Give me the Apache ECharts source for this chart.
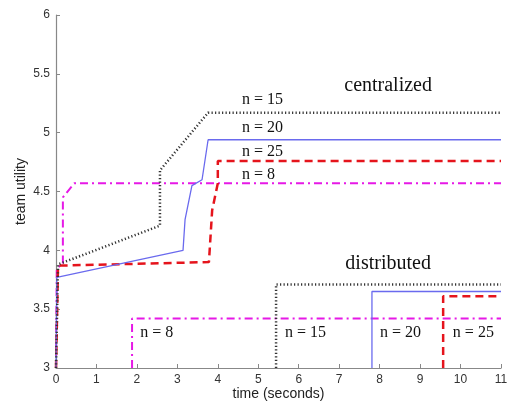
<!DOCTYPE html>
<html>
<head>
<meta charset="utf-8">
<script src="https://cdn.jsdelivr.net/npm/echarts@6/dist/echarts.min.js"></script>
<style>html,body{margin:0;padding:0;background:#fff}#c{width:510px;height:404px}</style>
</head>
<body>
<div id="c"></div>
<script>
// Centralized curves: [time, utility]
const cent15 = [[0,3],[0.05,3.88],[2.57,4.21],[2.57,4.68],[3.76,5.17],[11,5.17]];
const cent20 = [[0,3],[0.02,3.77],[3.14,4.0],[3.19,4.26],[3.36,4.55],[3.61,4.6],[3.76,4.94],[11,4.94]];
const cent25 = [[0,3],[0.05,3.87],[3.78,3.9],[3.86,4.34],[4.0,4.57],[4.0,4.76],[11,4.76]];
const cent8  = [[0,3],[0.02,3.85],[0.17,3.88],[0.17,4.45],[0.45,4.57],[11,4.57]];
// Distributed curves
const dist15 = [[5.44,3],[5.44,3.71],[11,3.71]];
const dist20 = [[7.81,3],[7.81,3.65],[11,3.65]];
const dist25 = [[9.57,3],[9.57,3.61],[11,3.61]];
const dist8  = [[1.88,3],[1.88,3.42],[11,3.42]];
// Axis ticks
const xTicks = [0,1,2,3,4,5,6,7,8,9,10,11];
const yTicks = [3,3.5,4,4.5,5,5.5,6];
// Annotations [text, x, y, align, size]
const notes = [
  ['centralized', 8.21, 5.40, 'center', 20],
  ['n = 15', 4.6, 5.28, 'left', 16],
  ['n = 20', 4.6, 5.04, 'left', 16],
  ['n = 25', 4.6, 4.84, 'left', 16],
  ['n = 8', 4.6, 4.64, 'left', 16],
  ['distributed', 8.21, 3.89, 'center', 20],
  ['n = 8', 2.08, 3.30, 'left', 16],
  ['n = 15', 5.66, 3.30, 'left', 16],
  ['n = 20', 8.01, 3.30, 'left', 16],
  ['n = 25', 9.81, 3.30, 'left', 16]
];

const black = {color:'#333', width:2.5, type:[1.2,2.3]};
const blue  = {color:'#6a6aee', width:1.3, type:'solid'};
const red   = {color:'#e5141c', width:2.5, type:[8,5]};
const mag   = {color:'#e619e6', width:2, type:[8,4,2,4]};

function s(data, ls){ return {type:'line', data, showSymbol:false, symbol:'none', lineStyle:ls, animation:false, z: 2}; }

const chart = echarts.init(document.getElementById('c'), null, {renderer:'canvas'});
const axisFont = {fontFamily:'Liberation Sans, Arial, sans-serif', fontSize:12, color:'#333'};
chart.setOption({
  animation:false,
  grid:{left:56, right:9, top:15, bottom:36, containLabel:false, outerBoundsMode:'none'},
  xAxis:{type:'value', min:0, max:11, interval:1,
    name:'time (seconds)', nameLocation:'middle', nameGap:19, nameMoveOverlap:false,
    nameTextStyle:{fontFamily:'Liberation Sans, Arial, sans-serif', fontSize:14, color:'#222'},
    axisLine:{onZero:false, lineStyle:{color:'#888', width:1.2}},
    axisTick:{inside:true, length:4, lineStyle:{color:'#888'}},
    axisLabel:Object.assign({margin:6, formatter:v=>xTicks.includes(v)?String(v):''}, axisFont),
    splitLine:{show:false}},
  yAxis:{type:'value', min:3, max:6, interval:0.5,
    name:'team utility', nameLocation:'middle', nameGap:28, nameRotate:90, nameMoveOverlap:false,
    nameTextStyle:{fontFamily:'Liberation Sans, Arial, sans-serif', fontSize:14, color:'#222'},
    axisLine:{show:true, onZero:false, lineStyle:{color:'#888', width:1.2}},
    axisTick:{show:true, inside:true, length:4, lineStyle:{color:'#888'}},
    axisLabel:Object.assign({margin:6, formatter:v=>yTicks.includes(v)?String(v):''}, axisFont),
    splitLine:{show:false}},
  series:[s(cent8,mag), s(dist8,mag), s(cent25,red), s(dist25,red), s(cent20,blue), s(dist20,blue), s(cent15,black), s(dist15,black)]
});
const g = notes.map(n => {
  const p = chart.convertToPixel({gridIndex:0}, [n[1], n[2]]);
  return {type:'text', x:p[0], y:p[1], z:10,
    style:{text:n[0], fill:'#111', font: n[4]+'px "Liberation Serif", "Times New Roman", serif', textAlign:n[3], textVerticalAlign:'middle'}};
});
chart.setOption({graphic:g});
</script>
</body>
</html>
